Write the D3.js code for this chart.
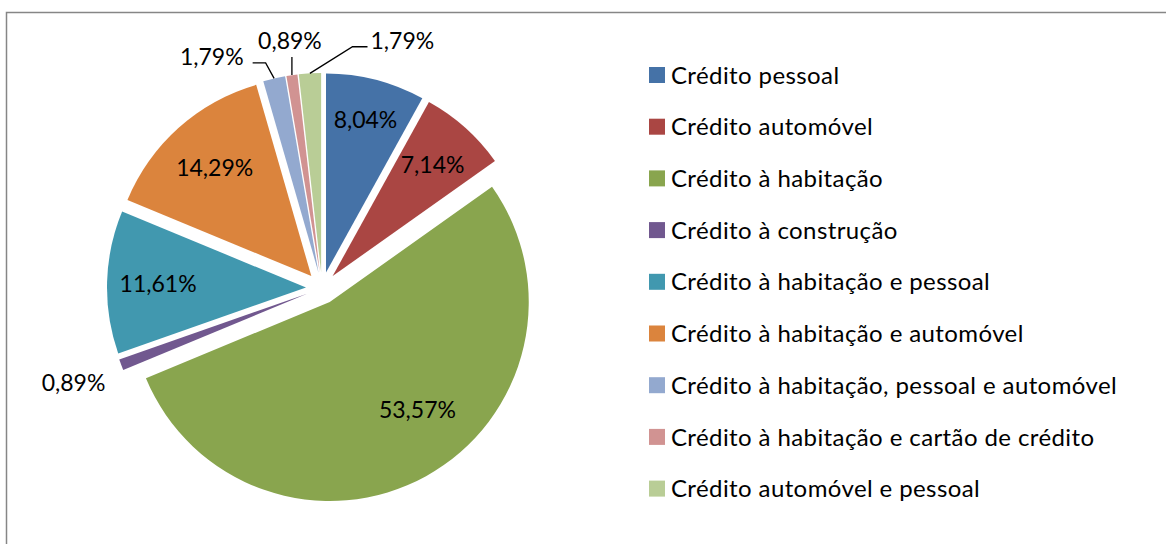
<!DOCTYPE html>
<html>
<head>
<meta charset="utf-8">
<script src="https://cdn.jsdelivr.net/npm/d3@7"></script>
<style>
  body { margin: 0; background: #fff; }
  svg { display: block; font-family: Lato, "Open Sans", sans-serif; }
</style>
</head>
<body>
<svg id="chart" width="1166" height="544"></svg>
<script>
// data
const categories = [
    "Crédito pessoal",
    "Crédito automóvel",
    "Crédito à habitação",
    "Crédito à construção",
    "Crédito à habitação e pessoal",
    "Crédito à habitação e automóvel",
    "Crédito à habitação, pessoal e automóvel",
    "Crédito à habitação e cartão de crédito",
    "Crédito automóvel e pessoal"
];
const values = [8.04, 7.14, 53.57, 0.89, 11.61, 14.29, 1.79, 0.89, 1.79];
const colors = ["#4572A7", "#AA4643", "#89A54E", "#71588F", "#4198AF",
                "#DB843D", "#93A9CF", "#D19392", "#B9CD96"];

// layout
let width = 1166, height = 544;
let cx = 322, cy = 288, radius = 199, explode = 16;
let labelSize = 23, legendSize = 24;
let deg = Math.PI / 180;

// where each data label sits: polar position from pie centre (angle null = slice bisector)
let labelPlace = [
    {dist: 174, angle: null},
    {dist: 166, angle: null},
    {dist: 155, angle: 142},
    {dist: 266, angle: null},
    {dist: 164, angle: null},
    {dist: 161, angle: null},
    {dist: 256, angle: 334.5, leader: "left"},
    {dist: 249, angle: 352.6, leader: "below"},
    {dist: 260, angle: 18, leader: "right"}
];

let svg = d3.select("#chart");

// chart border
svg.append("rect")
    .attr("x", 6.5).attr("y", 12.5)
    .attr("width", width).attr("height", height)
    .attr("fill", "none")
    .attr("stroke", "#868686")
    .attr("stroke-width", 1.5);

let pie = d3.pie().sort(null).value(function (d) { return d; });
let arcs = pie(values);
let arc = d3.arc().innerRadius(0).outerRadius(radius);

function polar(a, r) {
    return [Math.sin(a) * r, -Math.cos(a) * r];
}

let g = svg.append("g").attr("transform", "translate(" + cx + "," + cy + ")");

g.selectAll("path.slice")
    .data(arcs)
    .enter()
    .append("path")
    .attr("class", "slice")
    .attr("d", arc)
    .attr("fill", function (d, i) { return colors[i]; })
    .attr("transform", function (d) {
        let p = polar((d.startAngle + d.endAngle) / 2, explode);
        return "translate(" + p[0] + "," + p[1] + ")";
    });

let fmt = d3.format(".2f");
function pct(v) { return fmt(v).replace(".", ",") + "%"; }

arcs.forEach(function (d, i) {
    let mid = (d.startAngle + d.endAngle) / 2;
    let lp = labelPlace[i];
    let a = lp.angle === null ? mid : lp.angle * deg;
    let pos = polar(a, lp.dist);

    let t = g.append("text")
        .attr("x", pos[0])
        .attr("y", pos[1])
        .attr("dy", "0.36em")
        .attr("text-anchor", "middle")
        .attr("font-size", labelSize)
        .attr("fill", "#000")
        .text(pct(values[i]));

    if (lp.leader) {
        let w = t.node().getComputedTextLength();
        let off = polar(mid, explode);
        let start = polar(mid, radius);
        start = [start[0] + off[0], start[1] + off[1]];
        let pts;
        if (lp.leader === "left") {
            let end = [pos[0] + w / 2 + 9, pos[1] + 6];
            pts = [start, [end[0] + 13, end[1]], end];
        } else if (lp.leader === "right") {
            let end = [pos[0] - w / 2 - 3, pos[1] + 6];
            pts = [start, [end[0] - 15, end[1]], end];
        } else {
            pts = [start, [start[0], pos[1] + 16]];
        }
        g.append("path")
            .attr("d", d3.line()(pts))
            .attr("fill", "none")
            .attr("stroke", "#000")
            .attr("stroke-width", 1.3);
    }
});

// legend
let legendX = 649, legendTop = 75, legendStep = 51.7, box = 16;
let legend = svg.append("g");
let rows = legend.selectAll("g")
    .data(categories)
    .enter()
    .append("g")
    .attr("transform", function (d, i) {
        return "translate(" + legendX + "," + (legendTop + i * legendStep) + ")";
    });

rows.append("rect")
    .attr("x", 0).attr("y", -box / 2)
    .attr("width", box).attr("height", box)
    .attr("fill", function (d, i) { return colors[i]; });

rows.append("text")
    .attr("x", 22)
    .attr("dy", "0.36em")
    .attr("font-size", legendSize)
    .attr("letter-spacing", 0.4)
    .attr("fill", "#000")
    .text(function (d) { return d; });
</script>
</body>
</html>
